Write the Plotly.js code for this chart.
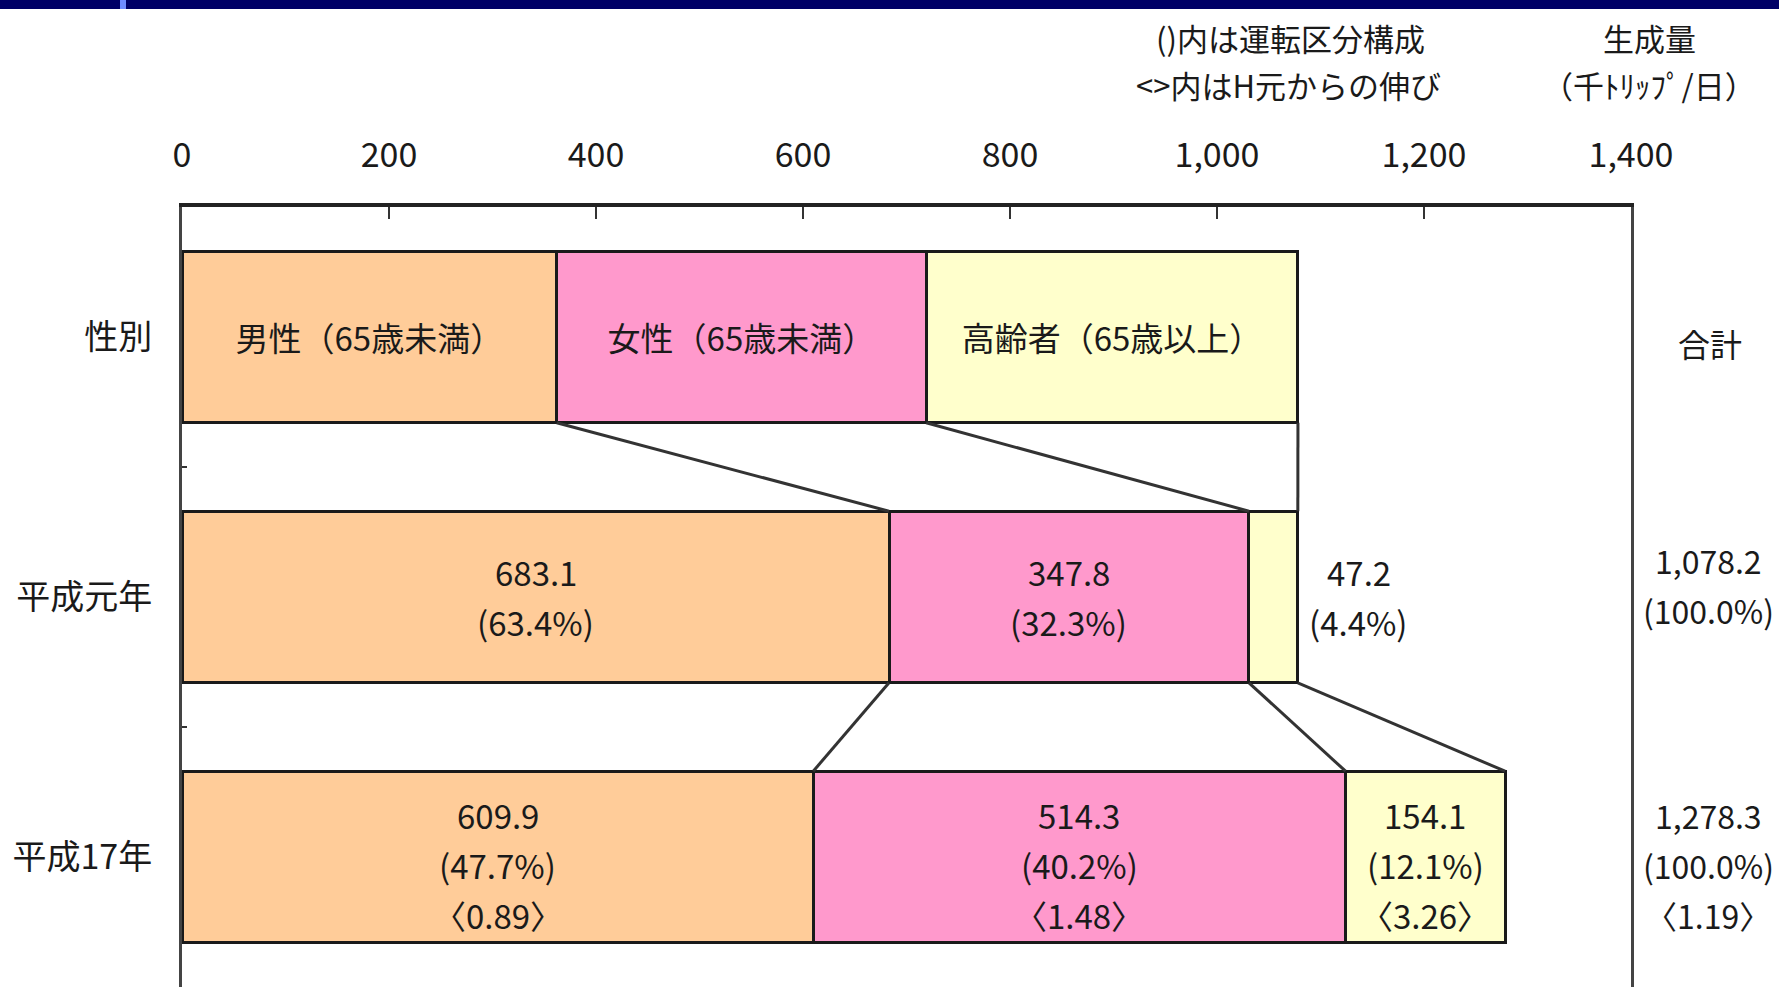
<!DOCTYPE html>
<html>
<head>
<meta charset="utf-8">
<script src="https://cdn.plot.ly/plotly-3.0.1.min.js"></script>
<style>
  html, body { margin: 0; padding: 0; background: #fff; }
  #chart { width: 1779px; height: 987px; }
</style>
</head>
<body>
<div id="chart"></div>
<script>
// rows and groups
var rows = ['性別', '平成元年', '平成17年'];
var groups = ['男性（65歳未満）', '女性（65歳未満）', '高齢者（65歳以上）'];

// trip generation, thousand trips / day (row 0 is the legend bar)
var male = [362, 683.1, 609.9];
var female = [357, 347.8, 514.3];
var elder = [359.2, 47.2, 154.1];

// share of total (%) and growth since H1
var maleShare = [null, 63.4, 47.7];
var femaleShare = [null, 32.3, 40.2];
var elderShare = [null, 4.4, 12.1];
var maleGrowth = [null, null, 0.89];
var femaleGrowth = [null, null, 1.48];
var elderGrowth = [null, null, 3.26];

var totals = [null, 1078.2, 1278.3];
var totalShare = [null, 100.0, 100.0];
var totalGrowth = [null, null, 1.19];

var xTicks = [0, 200, 400, 600, 800, 1000, 1200, 1400];
var xTickText = ['0', '200', '400', '600', '800', '1,000', '1,200', '1,400'];

var FONT = '"Noto Sans CJK JP", "Noto Sans", sans-serif';
var INK = '#1a1a1a';
var W = 1779, H = 987;
var M = {l: 182, r: 148, t: 207, b: 0};
var plotW = W - M.l - M.r, plotH = H - M.t - M.b;
var barWidth = 0.66;
var LINE = 50;              // px between text lines
var rowShift = [0, 0, -8];  // small vertical nudge of the value labels
var totalShift = [0, 12, -8];

function fmt(v) {
    return v.toLocaleString('en-US', {minimumFractionDigits: 1, maximumFractionDigits: 1});
}

function barTrace(vals, name, color) {
    return {
        type: 'bar',
        orientation: 'h',
        name: name,
        y: [0, 1, 2],
        x: vals,
        width: barWidth,
        text: [name, '', ''],
        textposition: ['inside', 'none', 'none'],
        insidetextanchor: 'middle',
        textangle: 0,
        constraintext: 'none',
        textfont: {family: FONT, size: 33, color: INK},
        marker: {color: color, line: {color: INK, width: 3}},
        hoverinfo: 'skip'
    };
}

// connector lines between cumulative segment ends
function cum(i) {
    return [male[i], male[i] + female[i], male[i] + female[i] + elder[i]];
}
var cx = [], cy = [];
for (var i = 0; i < rows.length - 1; i++) {
    var a = cum(i), b = cum(i + 1);
    for (var k = 0; k < 3; k++) {
        cx.push(a[k], b[k], null);
        cy.push(i + barWidth / 2, i + 1 - barWidth / 2, null);
    }
}

var data = [
    barTrace(male, groups[0], '#FFCC99'),
    barTrace(female, groups[1], '#FF99CC'),
    barTrace(elder, groups[2], '#FFFFCC'),
    {
        type: 'scatter',
        mode: 'lines',
        x: cx,
        y: cy,
        line: {color: '#333', width: 3},
        hoverinfo: 'skip',
        showlegend: false
    }
];

var annotations = [];

// stacked lines of text centred on (x, row)
function block(lines, xref, x, row, xshift, yshift, size) {
    lines.forEach(function (s, j) {
        annotations.push({
            text: s, xref: xref, yref: 'y', x: x, y: row,
            xshift: xshift,
            yshift: yshift - (j - (lines.length - 1) / 2) * LINE,
            xanchor: 'center', yanchor: 'middle', showarrow: false,
            font: {family: FONT, size: size, color: INK}
        });
    });
}

// value labels in (or beside) each segment
var series = [[male, maleShare, maleGrowth], [female, femaleShare, femaleGrowth], [elder, elderShare, elderGrowth]];
for (var r = 1; r < rows.length; r++) {
    var start = 0;
    series.forEach(function (s) {
        var v = s[0][r];
        var lines = [fmt(v), '(' + s[1][r].toFixed(1) + '%)'];
        if (s[2][r] !== null) lines.push('〈' + s[2][r].toFixed(2) + '〉');
        if (v < 100) {
            block(lines, 'x', start + v, r, 61, rowShift[r], 33);
        } else {
            block(lines, 'x', start + v / 2, r, 0, rowShift[r], 33);
        }
        start += v;
    });
}

// total column
totals.forEach(function (t, i) {
    if (t === null) return;
    var lines = [fmt(t), '(' + totalShare[i].toFixed(1) + '%)'];
    if (totalGrowth[i] !== null) lines.push('〈' + totalGrowth[i].toFixed(2) + '〉');
    block(lines, 'paper', (1708 - M.l) / plotW, i, 0, totalShift[i], 32);
});

function note(text, px, py, size) {
    annotations.push({
        text: text, xref: 'paper', yref: 'paper',
        x: (px - M.l) / plotW, y: (H - M.b - py) / plotH,
        xanchor: 'center', yanchor: 'middle', showarrow: false,
        font: {family: FONT, size: size, color: INK}
    });
}
note('()内は運転区分構成', 1290, 37, 31);
note('&lt;&gt;内はH元からの伸び', 1288, 85, 31);
note('生成量', 1649, 37, 31);
note('（千ﾄﾘｯﾌﾟ/日）', 1649, 85, 31);
note('合計', 1710, 343, 32);

var layout = {
    width: W,
    height: H,
    margin: M,
    barmode: 'stack',
    showlegend: false,
    paper_bgcolor: '#fff',
    plot_bgcolor: '#fff',
    font: {family: FONT, color: INK},
    xaxis: {
        side: 'top',
        range: [0, 1400],
        tickmode: 'array',
        tickvals: xTicks,
        ticktext: xTickText,
        ticks: 'inside',
        ticklen: 12,
        tickwidth: 2,
        tickcolor: '#333',
        ticklabelstandoff: 22,
        tickfont: {family: FONT, size: 34, color: INK},
        showline: true,
        linewidth: 4,
        linecolor: '#222',
        showgrid: false,
        zeroline: false,
        fixedrange: true
    },
    yaxis: {
        range: [2.5, -0.5],
        tickmode: 'array',
        tickvals: [0, 1, 2],
        ticktext: rows,
        ticks: '',
        ticklabelstandoff: 20,
        tickfont: {family: FONT, size: 34, color: INK},
        minor: {tickmode: 'array', tickvals: [0.5, 1.5], ticks: 'inside', ticklen: 5, tickwidth: 2, tickcolor: '#333'},
        showline: true,
        mirror: true,
        linewidth: 3,
        linecolor: '#444',
        showgrid: false,
        zeroline: false,
        fixedrange: true
    },
    shapes: [
        {type: 'rect', xref: 'paper', yref: 'paper', layer: 'above',
            x0: -M.l / plotW, x1: 1 + M.r / plotW,
            y0: (H - M.b - 9) / plotH, y1: (H - M.b) / plotH,
            fillcolor: '#000066', line: {width: 0}},
        {type: 'rect', xref: 'paper', yref: 'paper', layer: 'above',
            x0: (120 - M.l) / plotW, x1: (126 - M.l) / plotW,
            y0: (H - M.b - 9) / plotH, y1: (H - M.b) / plotH,
            fillcolor: '#6f8cff', line: {width: 0}}
    ],
    annotations: annotations
};

Plotly.newPlot('chart', data, layout, {displayModeBar: false, staticPlot: true});
</script>
</body>
</html>
